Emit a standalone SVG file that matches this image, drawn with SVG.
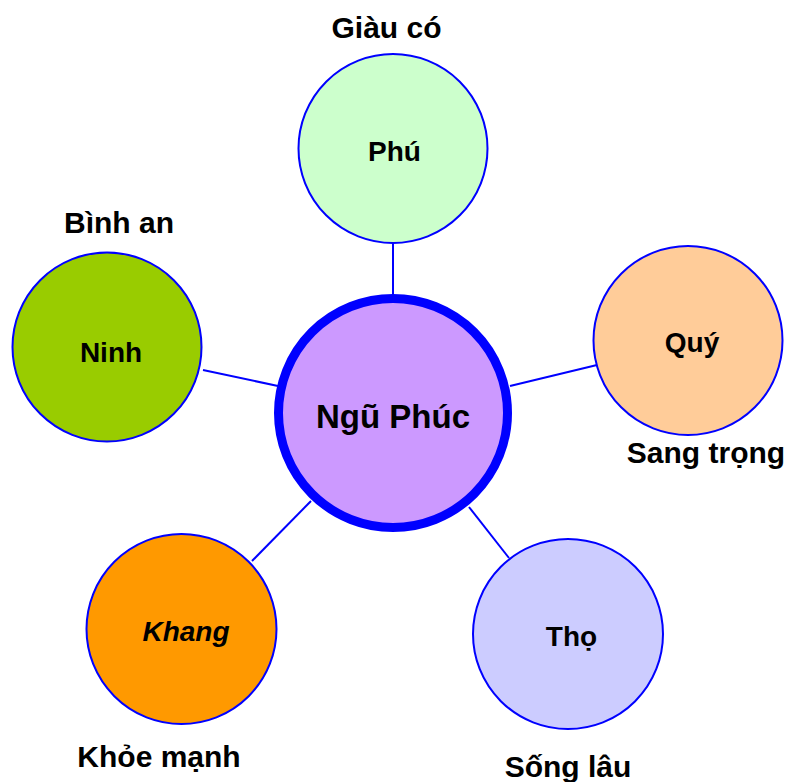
<svg xmlns="http://www.w3.org/2000/svg" width="795" height="782" viewBox="0 0 795 782">
<style>
.n{stroke:#0000FF;stroke-width:2}
.c{stroke:#0000FF;stroke-width:2;fill:none}
.t{font-family:"Liberation Sans",Arial,sans-serif;font-weight:bold;font-size:28px;fill:#000;text-anchor:middle}
.l{font-family:"Liberation Sans",Arial,sans-serif;font-weight:bold;font-size:30px;fill:#000;text-anchor:middle}
</style>
<rect width="795" height="782" fill="#FFFFFF"/>
<g id="connectors">
<line class="c" x1="393" y1="244" x2="393" y2="296"/>
<line class="c" x1="203" y1="370" x2="278" y2="386"/>
<line class="c" x1="510" y1="386" x2="597" y2="365"/>
<line class="c" x1="252" y1="561" x2="311" y2="501"/>
<line class="c" x1="469" y1="507" x2="509" y2="558"/>
</g>
<g id="center">
<circle cx="393" cy="413" r="114.5" fill="#CC99FF" stroke="#0000FF" stroke-width="9"/>
<text class="t" x="393" y="428" style="font-size:33px">Ngũ Phúc</text>
</g>
<g id="phu">
<circle class="n" cx="393" cy="148.5" r="94.5" fill="#CCFFCC"/>
<text class="t" x="394.5" y="161">Phú</text>
<text class="l" x="386.5" y="38">Giàu có</text>
</g>
<g id="ninh">
<circle class="n" cx="107" cy="347" r="94.5" fill="#99CC00"/>
<text class="t" x="111" y="362">Ninh</text>
<text class="l" x="119" y="233">Bình an</text>
</g>
<g id="quy">
<circle class="n" cx="688" cy="340.5" r="94.5" fill="#FFCC99"/>
<text class="t" x="692" y="352">Quý</text>
<text class="l" x="706" y="463">Sang trọng</text>
</g>
<g id="khang">
<circle class="n" cx="181.5" cy="629" r="95" fill="#FF9900"/>
<text class="t" x="186" y="641" font-style="italic">Khang</text>
<text class="l" x="159" y="767">Khỏe mạnh</text>
</g>
<g id="tho">
<circle class="n" cx="568" cy="634" r="95" fill="#CCCCFF"/>
<text class="t" x="571.5" y="646">Thọ</text>
<text class="l" x="568" y="777">Sống lâu</text>
</g>
</svg>
